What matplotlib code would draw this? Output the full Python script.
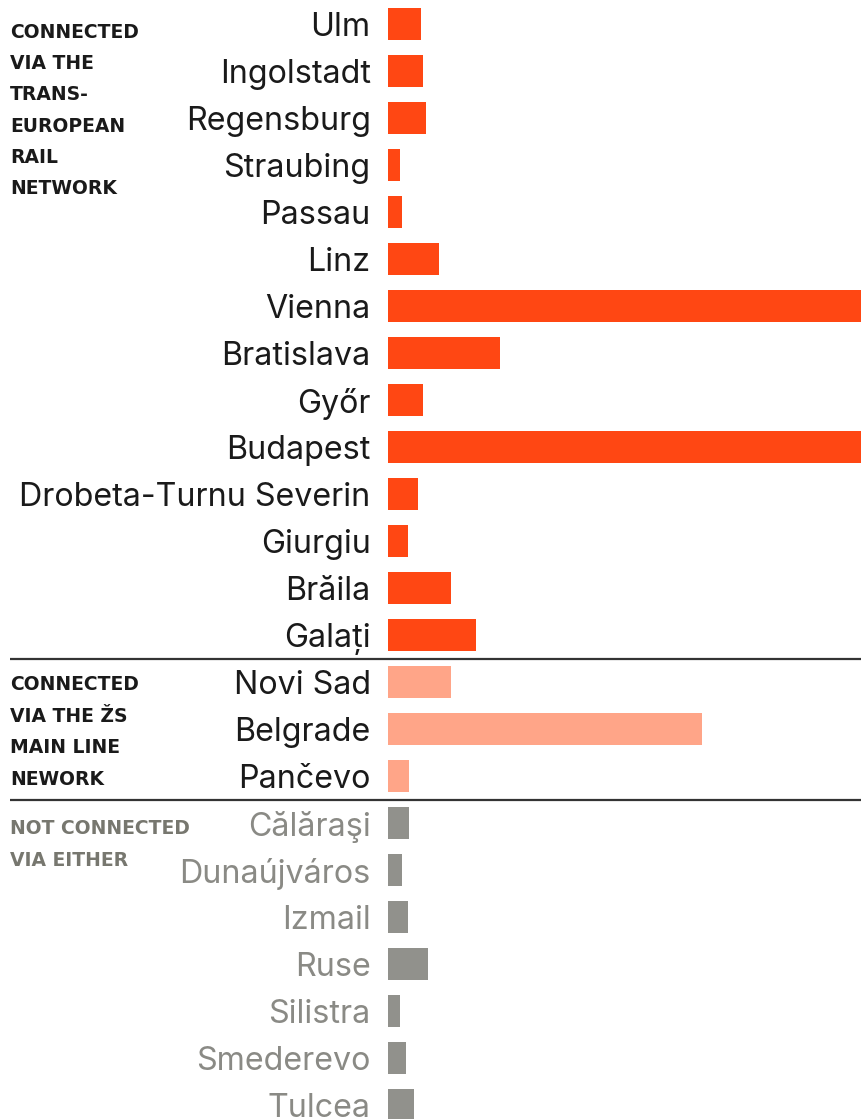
import matplotlib
matplotlib.use("Agg")
import matplotlib.pyplot as plt
from matplotlib.transforms import blended_transform_factory

# ---- data (population-like values, thousands) ----
cities_ten = ["Ulm", "Ingolstadt", "Regensburg", "Straubing", "Passau", "Linz",
              "Vienna", "Bratislava", "Győr", "Budapest", "Drobeta-Turnu Severin",
              "Giurgiu", "Brăila", "Galați"]
values_ten = [139, 147, 160, 52, 59, 216, 2200, 470, 149, 2100, 124, 84, 265, 370]

cities_zs = ["Novi Sad", "Belgrade", "Pančevo"]
values_zs = [265, 1319, 90]

cities_none = ["Călăraşi", "Dunaújváros", "Izmail", "Ruse", "Silistra",
               "Smederevo", "Tulcea"]
values_none = [88, 57, 84, 168, 50, 76, 109]

group_ten = ["CONNECTED", "VIA THE", "TRANS-", "EUROPEAN", "RAIL", "NETWORK"]
group_zs = ["CONNECTED", "VIA THE ŽS", "MAIN LINE", "NEWORK"]
group_none = ["NOT CONNECTED", "VIA EITHER"]

# ---- style ----
C_TEN = "#ff4713"
C_ZS = "#ffa588"
C_NONE = "#91918c"
T_DARK = "#1a1a1a"
T_GRAY = "#8a8a85"
G_GRAY = "#77776f"
X_MAX = 1987

W, H = 861, 1119
fig = plt.figure(figsize=(W / 100, H / 100), dpi=100)
ax = fig.add_axes([388 / W, 0, 1 - 388 / W, 1])

cities = cities_ten + cities_zs + cities_none
values = values_ten + values_zs + values_none
colors = [C_TEN] * len(cities_ten) + [C_ZS] * len(cities_zs) + [C_NONE] * len(cities_none)
tcolors = [T_DARK] * (len(cities_ten) + len(cities_zs)) + [T_GRAY] * len(cities_none)

ypos = list(range(len(cities)))
ax.barh(ypos, values, height=0.68, color=colors, linewidth=0)
ax.set_xlim(0, X_MAX)
ax.set_ylim(len(cities) - 1 + (H - 24 - 47 * (len(cities) - 1)) / 47, -24 / 47)
ax.set_yticks(ypos)
ax.set_yticklabels(cities, fontfamily="Inter", fontsize=23.2)
for lbl, c in zip(ax.get_yticklabels(), tcolors):
    lbl.set_color(c)
ax.tick_params(axis="y", length=0, pad=12.5)
ax.tick_params(axis="x", bottom=False, labelbottom=False)
for s in ax.spines.values():
    s.set_visible(False)

# separators
tr = blended_transform_factory(fig.transFigure, ax.transData)
for yy in [len(cities_ten) - 0.5, len(cities_ten) + len(cities_zs) - 0.5]:
    ax.plot([10 / W, 1.0], [yy, yy], transform=tr, color="#333333",
            linewidth=1.6, clip_on=False, solid_capstyle="butt")

# group labels
def group(lines, first_baseline_px, color):
    for i, t in enumerate(lines):
        fig.text(10 / W, 1 - (first_baseline_px + 31.4 * i) / H, t,
                 fontfamily="DejaVu Sans", fontweight="bold", fontsize=13.5,
                 color=color, ha="left", va="baseline")

group(group_ten, 37.5, T_DARK)
group(group_zs, 690.5, T_DARK)
group(group_none, 834.5, G_GRAY)

fig.savefig("out.png", dpi=100)
